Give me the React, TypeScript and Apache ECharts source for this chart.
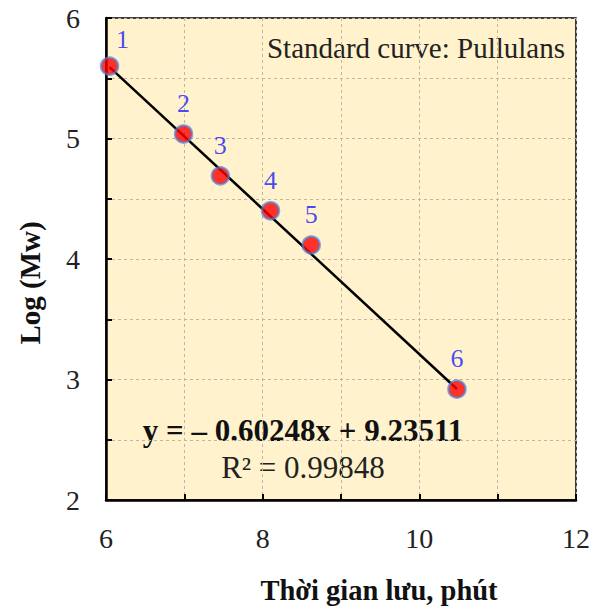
import React, { useEffect, useRef } from 'react';
import * as echarts from 'echarts';

const xValues = [6.045, 6.99, 7.46, 8.1, 8.62, 10.48];
const yValues = [5.6, 5.037, 4.69, 4.4, 4.116, 2.92];
const pointLabels = ['1', '2', '3', '4', '5', '6'];
const trendX = [6.045, 10.48];
const trendY = [5.593, 2.921];
const xTickLabels = ['6', '8', '10', '12'];
const yTickLabels = ['2', '3', '4', '5', '6'];
const chartTitle = 'Standard curve: Pullulans';
const equationText = 'y = – 0.60248x + 9.23511';
const r2Text = 'R² = 0.99848';
const xAxisTitle = 'Thời gian lưu, phút';
const yAxisTitle = 'Log (Mw)';

const FONT = 'Liberation Serif';

export default function App() {
  const ref = useRef<HTMLDivElement>(null);
  useEffect(() => {
    if (!ref.current) return;
    const chart = echarts.init(ref.current, undefined, { renderer: 'svg' });
    const axisCommon = {
      type: 'value',
      axisLine: { show: true, onZero: false, lineStyle: { color: '#000', width: 2.5 } },
      axisTick: { show: true, inside: true, length: 6, lineStyle: { color: '#000', width: 2 } },
      splitLine: { show: true, lineStyle: { color: '#bdb6a6', type: [3, 3], width: 1 } },
    };
    chart.setOption({
      animation: false,
      textStyle: { fontFamily: FONT },
      grid: {
        left: 106, right: 25, top: 18, bottom: 112,
        show: true, backgroundColor: '#FFF2CC', borderColor: '#000', borderWidth: 1.5,
      },
      xAxis: {
        ...axisCommon,
        min: 6, max: 12, interval: 1,
        axisLabel: {
          margin: 24, fontSize: 28, fontFamily: FONT, color: '#222',
          formatter: (v: number) => (xTickLabels.includes(String(v)) ? String(v) : ''),
        },
      },
      yAxis: {
        ...axisCommon,
        min: 2, max: 6, interval: 0.5,
        axisLabel: {
          margin: 26, fontSize: 28, fontFamily: FONT, color: '#222',
          formatter: (v: number) => (yTickLabels.includes(String(v)) ? String(v) : ''),
        },
      },
      series: [
        {
          type: 'line',
          data: trendX.map((x, i) => [x, trendY[i]]),
          symbol: 'none',
          lineStyle: { color: '#000', width: 2.5 },
          z: 2,
        },
        {
          type: 'scatter',
          symbolSize: 17,
          itemStyle: { color: '#ff0000', borderColor: 'rgba(80,125,210,0.85)', borderWidth: 2.5 },
          label: {
            show: true, position: 'top', distance: 8,
            color: '#1a1aff', fontSize: 26, fontFamily: FONT,
            formatter: (p: any) => pointLabels[p.dataIndex],
          },
          data: xValues.map((x, i) => ({
            value: [x, yValues[i]],
            label: i === 0 ? { offset: [13, 4] } : undefined,
          })),
          z: 3,
        },
      ],
      graphic: [
        {
          type: 'text', x: 565, y: 48,
          style: { text: chartTitle, fontSize: 29, fontFamily: FONT, fill: '#222', align: 'right', verticalAlign: 'middle' },
        },
        {
          type: 'text', x: 303, y: 430,
          style: { text: equationText, fontSize: 31, fontWeight: 'bold', fontFamily: FONT, fill: '#111', align: 'center', verticalAlign: 'middle' },
        },
        {
          type: 'text', x: 303, y: 467,
          style: { text: r2Text, fontSize: 31, fontFamily: FONT, fill: '#222', align: 'center', verticalAlign: 'middle' },
        },
        {
          type: 'text', x: 379, y: 590,
          style: { text: xAxisTitle, fontSize: 28.5, fontWeight: 'bold', fontFamily: FONT, fill: '#111', align: 'center', verticalAlign: 'middle' },
        },
        {
          type: 'text', x: 30, y: 283, rotation: Math.PI / 2,
          style: { text: yAxisTitle, fontSize: 29, fontWeight: 'bold', fontFamily: FONT, fill: '#111', align: 'center', verticalAlign: 'middle' },
        },
      ],
    });
    return () => chart.dispose();
  }, []);
  return (
    <div
      ref={ref}
      style={{ position: 'fixed', left: 0, top: 0, width: 601, height: 612, background: '#fff' }}
    />
  );
}
